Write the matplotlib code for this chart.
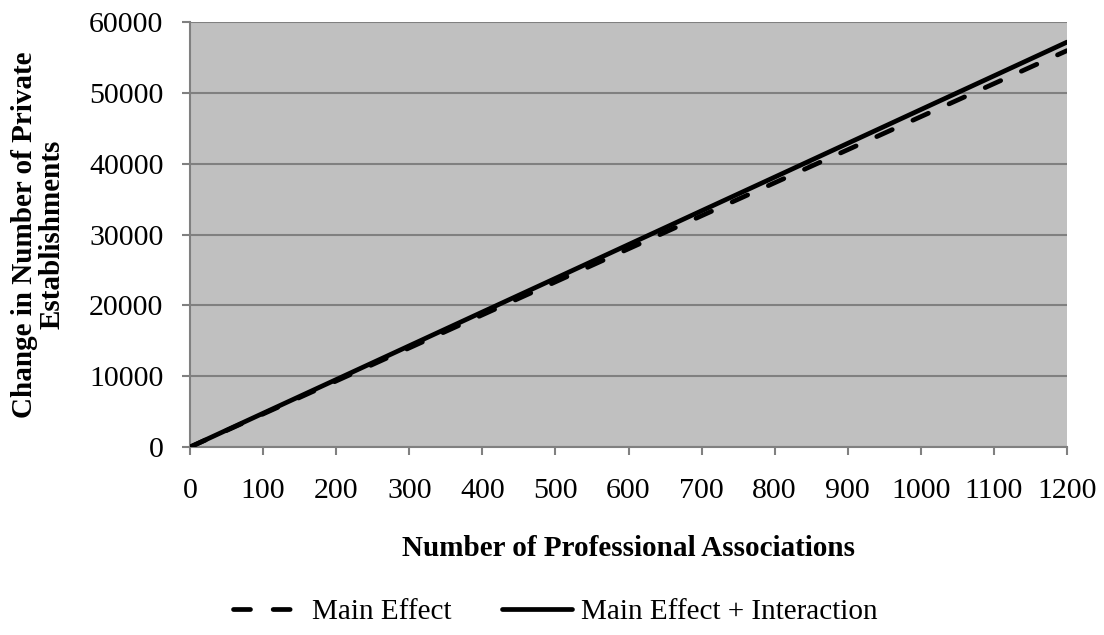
import matplotlib.pyplot as plt
import numpy as np

# Data
associations = [0, 100, 200, 300, 400, 500, 600, 700, 800, 900, 1000, 1100, 1200]
main_effect = [0, 4670, 9330, 14000, 18670, 23330, 28000, 32670, 37330,
               42000, 46670, 51330, 56000]
main_plus_interaction = [0, 4770, 9530, 14300, 19070, 23830, 28600, 33370,
                         38130, 42900, 47670, 52430, 57200]
x_ticks = [0, 100, 200, 300, 400, 500, 600, 700, 800, 900, 1000, 1100, 1200]
y_ticks = [0, 10000, 20000, 30000, 40000, 50000, 60000]

plt.rcParams["font.family"] = ["Liberation Serif", "DejaVu Serif"]

fig = plt.figure(figsize=(11.04, 6.35), dpi=100)
ax = fig.add_axes([0.1721, 0.296, 0.7944, 0.6689])
ax.set_facecolor("#C0C0C0")

grid_c = "#808080"
for yv in y_ticks:
    ax.axhline(yv, color=grid_c, lw=1.5, zorder=1)

ax.plot(associations, main_effect, color="black", lw=3.4, ls=(0, (3.6, 4.8)),
        dash_capstyle="round", solid_capstyle="round", zorder=3,
        label="Main Effect")
ax.plot(associations, main_plus_interaction, color="black", lw=3.4,
        solid_capstyle="round", zorder=4, label="Main Effect + Interaction")

ax.set_xlim(0, 1200)
ax.set_ylim(0, 60000)
ax.set_xticks(x_ticks)
ax.set_yticks(y_ticks)
ax.tick_params(axis="both", labelsize=21.5, colors=grid_c, labelcolor="black",
               length=6, width=1.5, direction="out")
ax.tick_params(axis="y", pad=13)
ax.tick_params(axis="x", pad=16.5)

for side in ["top", "right"]:
    ax.spines[side].set_visible(False)
for side in ["left", "bottom"]:
    ax.spines[side].set_color(grid_c)
    ax.spines[side].set_linewidth(1.5)

ax.set_xlabel("Number of Professional Associations", fontsize=21,
              fontweight="bold", labelpad=22)
ax.set_ylabel("Change in Number of Private\nEstablishments", fontsize=21,
              fontweight="bold", labelpad=17, linespacing=1.0)

handles, labels = ax.get_legend_handles_labels()
fig.legend(handles, labels, loc="center", bbox_to_anchor=(0.503, 0.036),
           ncol=2, frameon=False, fontsize=21, handlelength=2.4,
           handletextpad=0.3, columnspacing=1.75)

plt.savefig("out.png", dpi=100)
